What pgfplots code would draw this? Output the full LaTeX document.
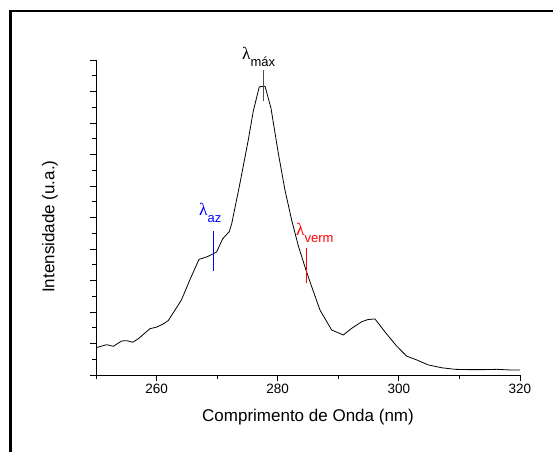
\documentclass[border=0pt]{standalone}
\usepackage{fontspec}
\setmainfont{Liberation Sans}
\newfontfamily\lamfont{Liberation Serif}
\usepackage{pgfplots}
\pgfplotsset{compat=1.18}
\newcommand{\lam}{{\lamfont\fontsize{17.5bp}{18bp}\selectfont λ}}
\begin{document}
\begin{tikzpicture}
\begin{axis}[
 name=ax, at={(0,0)}, anchor=south west,
 scale only axis, width=424bp, height=315bp,
 xmin=250, xmax=320, ymin=0, ymax=10,
 axis lines=left, axis line style={-, line width=0.8bp},
 xtick={260,280,300,320}, minor xtick={250,270,290,310},
 ytick={0,1,...,10}, minor ytick={0.5,1.5,...,9.5},
 yticklabels={},
 tick align=outside, major tick length=6bp, minor tick length=3.5bp,
 tick style={black, line width=0.8bp},
 xticklabel style={font=\fontsize{13.5bp}{16bp}\selectfont},
 /pgf/number format/assume math mode=true,
 xlabel={Comprimento de Onda (nm)}, ylabel={Intensidade (u.a.)},
 label style={font=\fontsize{17bp}{20bp}\selectfont},
 xlabel style={at={(axis description cs:0.5,-0.149)}, anchor=base},
 ylabel style={at={(axis description cs:-0.1085,0.471)}, anchor=center},
 clip=false,
]
\addplot[black, line width=0.8bp, no marks] coordinates {
(250.0,0.867) (251.76,0.963) (252.86,0.91) (254.24,1.08) (255.06,1.09)
(256.05,1.04) (256.99,1.15) (258.9,1.47) (260.0,1.52) (261.1,1.62)
(261.94,1.73) (264.1,2.38) (265.5,3.02) (267.0,3.67) (268.3,3.75)
(269.9,3.90) (270.9,4.32) (272.0,4.55) (272.4,4.80) (273.77,6.09)
(275.14,7.46) (275.97,8.38) (276.96,9.15) (277.9,9.17) (278.89,8.47)
(280.1,7.04) (281.2,5.87) (282.3,4.92) (283.4,4.10) (284.67,3.33)
(285.8,2.70) (286.98,2.06) (288.9,1.43) (290.83,1.27) (292.2,1.48)
(293.85,1.69) (294.9,1.76) (296.06,1.78) (297.7,1.37) (299.63,0.92) (301.28,0.60)
(302.93,0.48) (304.86,0.32) (307.07,0.23) (309.27,0.18) (311.75,0.17)
(313.95,0.17) (316.16,0.18) (318.35,0.16) (320.0,0.16)
};
\addplot[black!70, line width=0.8bp, no marks] coordinates {(277.62,8.70) (277.62,9.68)};
\addplot[blue, line width=0.8bp, no marks] coordinates {(269.37,3.31) (269.37,4.57)};
\addplot[red, line width=0.8bp, no marks] coordinates {(284.70,2.91) (284.70,4.02)};
\node[anchor=base west, inner sep=0pt, font=\fontsize{13bp}{14bp}\selectfont] at (axis cs:274.10,10.0) {\lam\raisebox{-6.7bp}{máx}};
\node[anchor=base west, inner sep=0pt, text=blue, font=\fontsize{13bp}{14bp}\selectfont] at (axis cs:267.0,5.048) {\lam\raisebox{-7bp}{az}};
\node[anchor=base west, inner sep=0pt, text=red, font=\fontsize{13bp}{14bp}\selectfont] at (axis cs:283.02,4.444) {\lam\raisebox{-7.5bp}{verm}};
\end{axis}
\useasboundingbox (ax.south west) ++(-96bp,-77bp) rectangle ++(553bp,452bp);
\draw[line width=2.5bp, shift={(ax.south west)}] (-85.5bp,-77bp) -- (-85.5bp,364bp) -- (457bp,364bp);
\end{tikzpicture}
\end{document}
